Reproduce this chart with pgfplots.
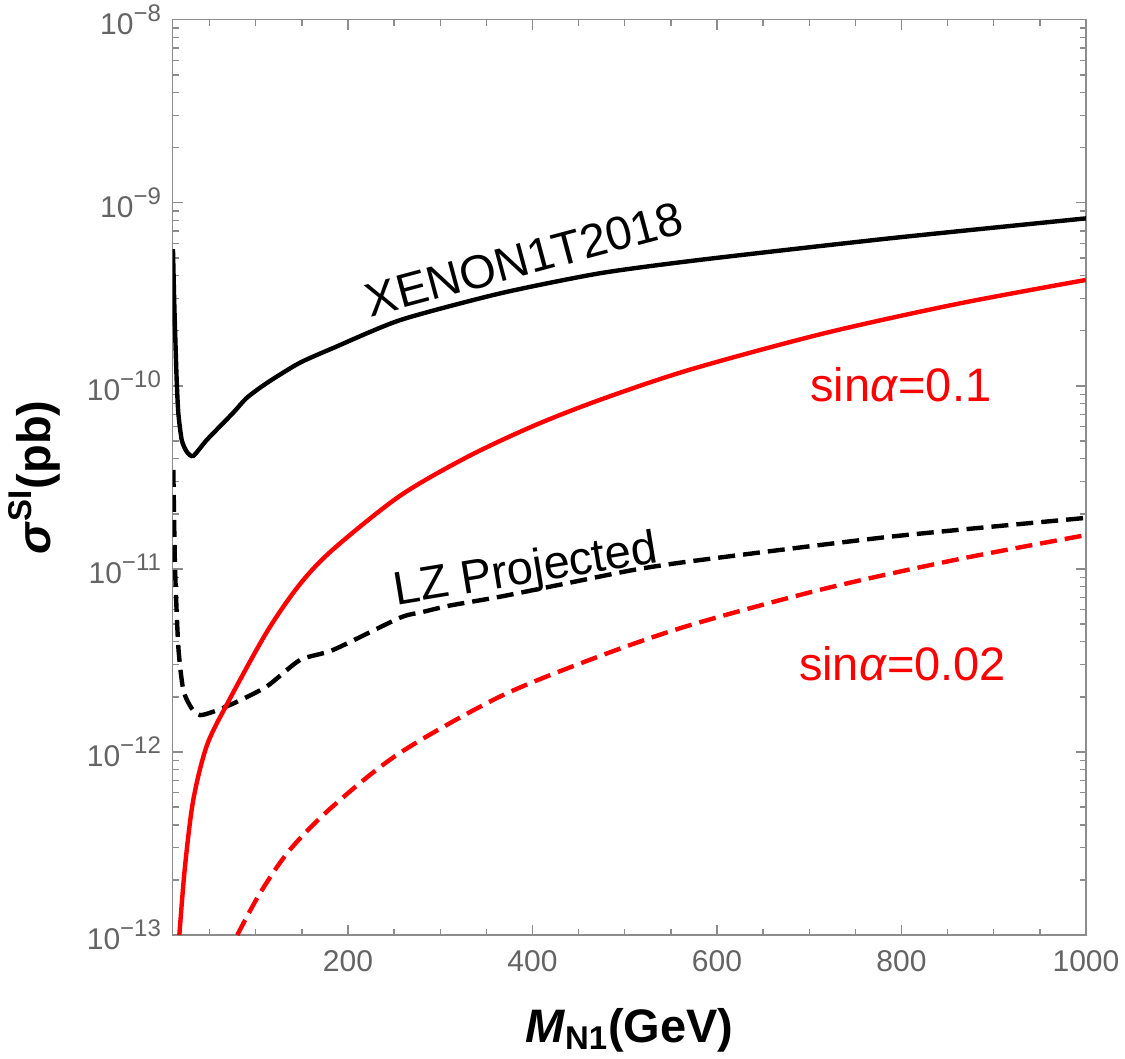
\documentclass[border=0pt]{standalone}
\usepackage{fontspec}
\setmainfont{Liberation Sans}
\usepackage{pgfplots}
\pgfplotsset{compat=1.18}

\definecolor{axisgray}{RGB}{140,140,140}
\definecolor{labelgray}{RGB}{100,100,100}
\newcommand{\dec}[1]{10\raisebox{0.45em}{\fontsize{12}{12}\selectfont −#1}}

\begin{document}
\begin{tikzpicture}
\path[use as bounding box] (-86.35pt,-62pt) rectangle (476.15pt,467.5pt);
\begin{axis}[
  at={(0,0)}, anchor=south west,
  scale only axis, width=456.65pt, height=457.65pt,
  xmin=10, xmax=1000,
  ymode=log, ymin=1e-13, ymax=1e-8,
  axis line style={axisgray, line width=0.7pt},
  every tick/.style={axisgray, line width=0.7pt},
  major tick length=5pt, minor tick length=3pt,
  tick align=inside,
  xtick={200,400,600,800,1000},
  xticklabels={200,400,600,800,1000},
  minor xtick={50,100,150,250,300,350,450,500,550,650,700,750,850,900,950},
  ytick={1e-13,1e-12,1e-11,1e-10,1e-9,1e-8},
  yticklabels={\dec{13},\dec{12},\dec{11},\dec{10},\dec{9},\dec{8}},
  minor ytick={2e-13,3e-13,4e-13,5e-13,6e-13,7e-13,8e-13,9e-13,
               2e-12,3e-12,4e-12,5e-12,6e-12,7e-12,8e-12,9e-12,
               2e-11,3e-11,4e-11,5e-11,6e-11,7e-11,8e-11,9e-11,
               2e-10,3e-10,4e-10,5e-10,6e-10,7e-10,8e-10,9e-10,
               2e-9,3e-9,4e-9,5e-9,6e-9,7e-9,8e-9,9e-9},
  xticklabel style={font=\fontsize{15}{18}\selectfont, text=labelgray, yshift=-4pt},
  yticklabel style={font=\fontsize{15}{18}\selectfont, text=labelgray, anchor=base east, yshift=-7.4pt, xshift=-2.35pt},
  xlabel={\bfseries\textit{M}\textsubscript{N1}(GeV)},
  ylabel={\bfseries\textit{σ}\textsuperscript{SI}(pb)},
  xlabel style={font=\fontsize{23.5}{28}\selectfont, at={(axis description cs:0.5,-0.1169)}, anchor=base},
  ylabel style={font=\fontsize{23.5}{28}\selectfont, at={(axis description cs:-0.1343,0.5)}, anchor=base},
  clip mode=individual,
  every axis plot/.append style={line width=2.2pt},
]
% XENON1T 2018 exclusion limit
\addplot[black, smooth, tension=0.4] coordinates {
  (10.3,5.58e-10) (11.6,2.95e-10) (12.9,1.78e-10) (14.3,1.08e-10)
  (16.1,7.11e-11) (19.8,5.06e-11) (25.2,4.37e-11) (32.3,4.14e-11)
  (46.9,5.06e-11) (75.4,7.11e-11) (90.2,8.59e-11) (111.9,1.035e-10)
  (147,1.33e-10) (184,1.61e-10) (257,2.29e-10) (365,3.20e-10)
  (473,4.12e-10) (582,4.88e-10) (788,6.40e-10) (1000,8.22e-10)
};
% LZ projected sensitivity
\addplot[black, dash pattern=on 8.5pt off 4pt, smooth, tension=0.4] coordinates {
  (10.7,3.47e-11) (12.5,1.03e-11) (16.1,3.76e-12) (21.5,2.18e-12)
  (30.6,1.73e-12) (39.6,1.59e-12) (54,1.66e-12) (75.7,1.84e-12)
  (112,2.28e-12) (148,3.18e-12) (184,3.61e-12) (256,5.4e-12)
  (280,5.8e-12) (310,6.3e-12) (365,7.05e-12) (437,8.34e-12)
  (509,9.86e-12) (577,1.11e-11) (788,1.50e-11) (1000,1.90e-11)
};
% sin alpha = 0.1
\addplot[red, smooth, tension=0.5] coordinates {
  (17.2,1.0e-13) (23.3,2.36e-13) (32.3,5.47e-13) (46.9,1.08e-12)
  (68.5,1.81e-12) (112,4.52e-12) (148,8.26e-12) (184,1.28e-11)
  (256,2.50e-11) (329,4.08e-11) (401,6.04e-11) (473,8.38e-11)
  (571,1.227e-10) (715,1.93e-10) (860,2.80e-10) (1000,3.79e-10)
};
% sin alpha = 0.02
\addplot[red, dash pattern=on 8.5pt off 4pt, smooth, tension=0.5] coordinates {
  (80,1.0e-13) (104.6,1.69e-13) (137,2.92e-13) (184,5.07e-13)
  (256,9.86e-13) (365,2.01e-12) (473,3.34e-12) (571,4.93e-12)
  (715,7.76e-12) (860,1.125e-11) (1000,1.53e-11)
};
\node[anchor=base, rotate=15, font=\fontsize{23.5}{28}\selectfont] at (axis cs:395.7,4.04e-10) {XENON1T2018};
\node[anchor=base, rotate=9.3, font=\fontsize{23.5}{28}\selectfont] at (axis cs:395.2,8.32e-12) {LZ Projected};
\node[anchor=base, text=red, font=\fontsize{23.5}{28}\selectfont] at (axis cs:799.3,8.19e-11) {sin\textit{α}=0.1};
\node[anchor=base, text=red, font=\fontsize{23.5}{28}\selectfont] at (axis cs:801.1,2.47e-12) {sin\textit{α}=0.02};
\end{axis}
\end{tikzpicture}
\end{document}
